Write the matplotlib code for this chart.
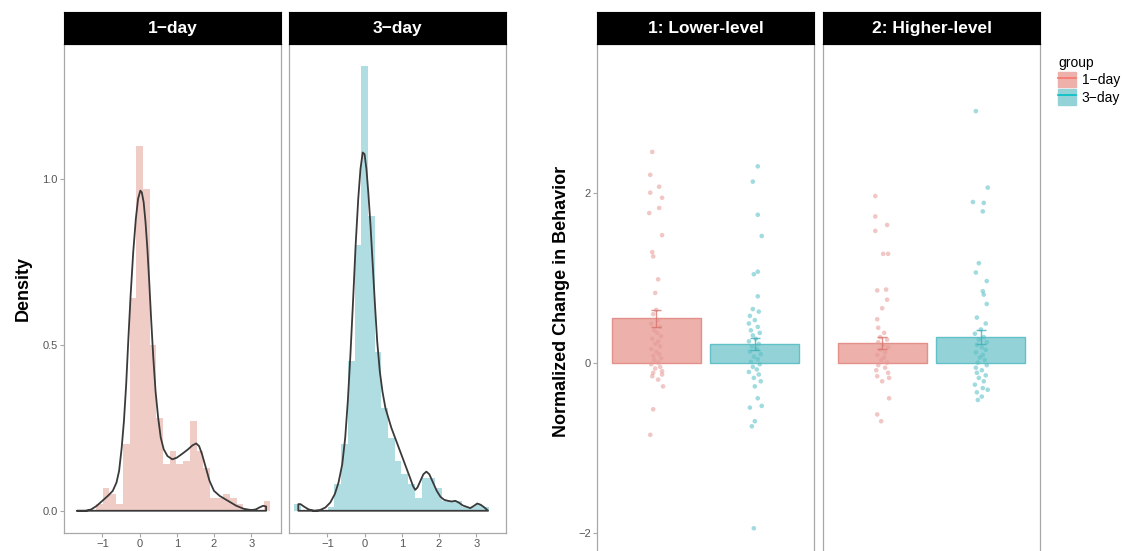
import matplotlib
matplotlib.use("Agg")
import matplotlib.pyplot as plt
from matplotlib.patches import Patch
from matplotlib.lines import Line2D

plt.rcParams['font.family'] = ['Liberation Sans', 'DejaVu Sans']

# ---------------- data ----------------
groups = ["1\u2212day", "3\u2212day"]
levels = ["1: Lower-level", "2: Higher-level"]

hist_x = [-1.8, -1.62, -1.44, -1.26, -1.08, -0.9, -0.72, -0.54, -0.36, -0.18, 0.0,
          0.18, 0.36, 0.54, 0.72, 0.9, 1.08, 1.26, 1.44, 1.62, 1.8, 1.98, 2.16,
          2.34, 2.52, 2.7, 2.88, 3.06, 3.24, 3.42]
hist_1day = [0, 0, 0, 0, 0.02, 0.07, 0.05, 0.02, 0.2, 0.64, 1.10,
             0.97, 0.5, 0.28, 0.14, 0.18, 0.14, 0.15, 0.27, 0.18, 0.13, 0.04, 0.04,
             0.05, 0.04, 0.02, 0.0, 0.0, 0.0, 0.03]
hist_3day = [0.02, 0, 0, 0, 0, 0.01, 0.08, 0.2, 0.45, 0.8, 1.34,
             0.89, 0.48, 0.31, 0.22, 0.15, 0.11, 0.08, 0.04, 0.1, 0.1, 0.07, 0.03,
             0.03, 0.03, 0.01, 0.01, 0.02, 0.01, 0.0]

dens1_x = [-1.68, -1.45, -1.3, -1.15, -1.0, -0.85, -0.72, -0.62, -0.55, -0.48, -0.42,
           -0.36, -0.3, -0.24, -0.17, -0.1, -0.04, 0.02, 0.06, 0.11, 0.16, 0.21, 0.26,
           0.31, 0.37, 0.43, 0.5, 0.57, 0.65, 0.75, 0.88, 1.0, 1.15, 1.3, 1.42, 1.52,
           1.6, 1.68, 1.78, 1.88, 2.0, 2.15, 2.3, 2.45, 2.6, 2.8, 3.0, 3.12, 3.22,
           3.32, 3.4, 3.4]
dens1_y = [0.0, 0.0, 0.004, 0.015, 0.03, 0.045, 0.06, 0.085, 0.12, 0.19, 0.27,
           0.38, 0.52, 0.65, 0.78, 0.88, 0.94, 0.965, 0.96, 0.93, 0.87, 0.79, 0.69,
           0.58, 0.46, 0.36, 0.28, 0.22, 0.185, 0.165, 0.155, 0.16, 0.172, 0.185, 0.197, 0.203,
           0.195, 0.17, 0.13, 0.09, 0.06, 0.045, 0.035, 0.025, 0.015, 0.006, 0.002, 0.004, 0.01,
           0.015, 0.013, 0.0]

dens3_x = [-1.78, -1.78, -1.72, -1.62, -1.5, -1.35, -1.2, -1.05, -0.92, -0.8, -0.7,
           -0.6, -0.52, -0.45, -0.38, -0.31, -0.24, -0.17, -0.11, -0.05, 0.0, 0.05,
           0.1, 0.16, 0.22, 0.28, 0.34, 0.41, 0.48, 0.56, 0.64, 0.72, 0.82, 0.92,
           1.02, 1.12, 1.22, 1.3, 1.36, 1.42, 1.5, 1.58, 1.66, 1.74, 1.84, 1.94,
           2.04, 2.14, 2.24, 2.34, 2.44, 2.54, 2.64, 2.74, 2.84, 2.94, 3.03, 3.12,
           3.22, 3.32]
dens3_y = [0.0, 0.02, 0.02, 0.012, 0.004, 0.0, 0.002, 0.01, 0.025, 0.05, 0.085,
           0.14, 0.22, 0.33, 0.47, 0.63, 0.8, 0.94, 1.03, 1.08, 1.075, 1.03,
           0.96, 0.86, 0.74, 0.62, 0.51, 0.42, 0.36, 0.31, 0.28, 0.25, 0.22, 0.19,
           0.16, 0.13, 0.1, 0.075, 0.063, 0.07, 0.09, 0.11, 0.118, 0.11, 0.085, 0.06,
           0.042, 0.033, 0.03, 0.028, 0.03, 0.024, 0.016, 0.012, 0.008, 0.015, 0.022, 0.018,
           0.01, 0.0]

bar_means = {"1: Lower-level": [0.52, 0.22], "2: Higher-level": [0.23, 0.30]}
bar_se = {"1: Lower-level": [0.10, 0.07], "2: Higher-level": [0.07, 0.08]}

low_1day_y = [2.48, 2.21, 2.07, 2.0, 1.94, 1.82, 1.76, 1.5, 1.3, 1.25, 0.98, 0.82,
              0.62, 0.57, 0.5, 0.46, 0.42, 0.38, 0.35, 0.31, 0.28, 0.25, 0.22, 0.19,
              0.16, 0.13, 0.1, 0.08, 0.05, 0.03, 0.0, -0.02, -0.05, -0.07, -0.1, -0.12,
              -0.14, -0.16, -0.2, -0.28, -0.55, -0.85]
low_1day_j = [-0.04, -0.06, 0.03, -0.06, 0.06, 0.03, -0.07, 0.06, -0.04, -0.03, 0.02, -0.01,
              0.0, -0.03, 0.02, -0.05, 0.04, -0.02, 0.01, 0.05, -0.04, 0.02, -0.01, 0.04,
              -0.05, 0.0, 0.03, -0.03, 0.05, -0.02, 0.02, -0.05, 0.04, -0.01, 0.06, -0.03,
              0.06, -0.04, 0.02, 0.07, -0.03, -0.06]
low_3day_y = [2.31, 2.13, 1.74, 1.49, 1.07, 1.04, 0.78, 0.63, 0.6, 0.55, 0.5, 0.46,
              0.42, 0.38, 0.35, 0.32, 0.28, 0.25, 0.22, 0.19, 0.16, 0.13, 0.1, 0.07,
              0.04, 0.01, -0.02, -0.05, -0.08, -0.11, -0.14, -0.18, -0.22, -0.28, -0.42,
              -0.51, -0.53, -0.69, -0.75, -1.95]
low_3day_j = [0.03, -0.02, 0.03, 0.07, 0.03, -0.01, 0.03, -0.02, 0.04, -0.05, 0.0, -0.06,
              0.03, -0.04, 0.05, -0.02, 0.01, -0.06, 0.04, -0.03, 0.02, -0.05, 0.06, -0.01,
              0.03, -0.04, 0.05, -0.02, 0.02, -0.06, 0.04, -0.01, 0.06, 0.0, 0.03,
              0.07, -0.05, 0.0, -0.03, -0.01]
high_1day_y = [1.96, 1.72, 1.62, 1.55, 1.28, 1.28, 0.85, 0.86, 0.74, 0.64, 0.51, 0.41,
               0.35, 0.3, 0.27, 0.24, 0.21, 0.18, 0.15, 0.12, 0.09, 0.06, 0.03, 0.0,
               -0.03, -0.06, -0.09, -0.12, -0.16, -0.18, -0.22, -0.42, -0.61, -0.69]
high_1day_j = [-0.07, -0.07, 0.05, -0.07, 0.01, 0.06, -0.05, 0.04, 0.05, 0.0, -0.05, -0.04,
               0.02, -0.02, 0.05, -0.04, 0.01, 0.06, -0.02, 0.03, -0.05, 0.02, -0.01, 0.05,
               -0.04, 0.03, -0.06, 0.06, -0.05, 0.07, 0.0, 0.07, -0.05, -0.01]
high_3day_y = [2.96, 2.06, 1.89, 1.88, 1.78, 1.17, 1.06, 0.96, 0.84, 0.8, 0.69, 0.53,
               0.46, 0.39, 0.34, 0.3, 0.27, 0.24, 0.21, 0.18, 0.15, 0.12, 0.09, 0.06,
               0.03, 0.0, -0.03, -0.06, -0.09, -0.12, -0.15, -0.18, -0.22, -0.26, -0.3,
               -0.32, -0.35, -0.4, -0.44]
high_3day_j = [-0.05, 0.07, -0.08, 0.03, 0.02, -0.02, -0.05, 0.06, 0.02, 0.03, 0.06, -0.04,
               0.05, 0.0, -0.06, 0.03, -0.02, 0.06, -0.04, 0.01, 0.05, -0.05, 0.02, -0.01,
               0.04, -0.03, 0.06, -0.05, 0.01, -0.04, 0.05, -0.02, 0.03, -0.06, 0.02,
               0.07, -0.04, 0.01, -0.03]

points = {
    ("1: Lower-level", 0): (low_1day_y, low_1day_j),
    ("1: Lower-level", 1): (low_3day_y, low_3day_j),
    ("2: Higher-level", 0): (high_1day_y, high_1day_j),
    ("2: Higher-level", 1): (high_3day_y, high_3day_j),
}

# ---------------- style ----------------
W, H = 1133, 551
fig = plt.figure(figsize=(W / 100, H / 100), dpi=100)

red = "#F8766D"
teal = "#00BFC4"
hist_cols = ["#F0CCC7", "#B0DDE2"]
bar_fill = ["#EDB0AB", "#93D3D8"]
bar_edge = ["#E3908A", "#62C1C7"]
pt_cols = ["#E59A95", "#55BFC5"]
err_cols = ["#D9736C", "#3FAFB5"]
border = "#A8A8A8"
tickc = "#555555"

def px_axes(x0, x1, ytop, ybot):
    return [x0 / W, 1 - ybot / H, (x1 - x0) / W, (ybot - ytop) / H]

def style(ax):
    for s in ax.spines.values():
        s.set_color(border)
        s.set_linewidth(0.9)
    ax.tick_params(colors=border, labelcolor=tickc, labelsize=8, length=3, width=0.8, pad=1.5)

def strip(x0, x1, text):
    sax = fig.add_axes(px_axes(x0, x1, 12, 44))
    sax.set_facecolor("black")
    sax.set_xticks([]); sax.set_yticks([])
    for s in sax.spines.values():
        s.set_color("black")
    sax.text(0.5, 0.47, text, color="white", fontsize=12.5, fontweight="bold",
             ha="center", va="center", transform=sax.transAxes)

# ---------------- left: density ----------------
left_panels = [(64, 281), (289, 506)]
hists = [hist_1day, hist_3day]
dens = [(dens1_x, dens1_y), (dens3_x, dens3_y)]
for i, (x0, x1) in enumerate(left_panels):
    ax = fig.add_axes(px_axes(x0, x1, 44, 533))
    ax.bar(hist_x, hists[i], width=0.18, color=hist_cols[i], edgecolor="none")
    dx, dy = dens[i]
    ax.fill(dx, dy, facecolor="none", edgecolor="#3A3A3A", linewidth=1.3, joinstyle="round")
    ax.set_xlim(-2.03, 3.8)
    ax.set_ylim(-0.067, 1.407)
    ax.set_xticks([-1, 0, 1, 2, 3])
    ax.set_yticks([0.0, 0.5, 1.0])
    style(ax)
    if i == 0:
        ax.set_yticklabels(["0.0", "0.5", "1.0"])
        ax.set_ylabel("Density", fontsize=13, fontweight="bold", labelpad=8)
    else:
        ax.tick_params(axis="y", left=False, labelleft=False)
    strip(x0, x1, groups[i])

# ---------------- right: bars + points ----------------
right_panels = [(597, 814), (823, 1040)]
for i, (x0, x1) in enumerate(right_panels):
    lev = levels[i]
    ax = fig.add_axes(px_axes(x0, x1, 44, 558))
    xs = [1, 2]
    ax.bar(xs, bar_means[lev], width=0.9, color=bar_fill, edgecolor=bar_edge, linewidth=1.0, zorder=1)
    for g in range(2):
        yv, jv = points[(lev, g)]
        ax.scatter([xs[g] + j for j in jv], yv, s=11, color=pt_cols[g], alpha=0.55,
                   edgecolors="none", zorder=2)
        m, se = bar_means[lev][g], bar_se[lev][g]
        ax.errorbar([xs[g]], [m], yerr=[se], color=err_cols[g], capsize=3.5, elinewidth=1.0,
                    capthick=1.0, fmt="none", zorder=3, alpha=0.8)
    ax.set_xlim(0.4, 2.6)
    ax.set_ylim(-2.3, 3.75)
    ax.set_xticks([])
    ax.set_yticks([-2, 0, 2])
    style(ax)
    if i == 0:
        ax.set_ylabel("Normalized Change in Behavior", fontsize=13, fontweight="bold", labelpad=6)
    else:
        ax.tick_params(axis="y", left=False, labelleft=False)
    strip(x0, x1, lev)

# legend
handles = [(Patch(facecolor=bar_fill[g], edgecolor=bar_fill[g]),
            Line2D([], [], color=[red, teal][g], linewidth=1.2)) for g in range(2)]
leg = fig.legend(handles, groups, title="group", loc="upper left",
                 bbox_to_anchor=(1058 / W, 1 - 56 / H), frameon=False, fontsize=10,
                 title_fontsize=10, handlelength=1.3, handleheight=1.3, handletextpad=0.4,
                 labelspacing=0.15, borderaxespad=0, borderpad=0)
leg._legend_box.align = "left"

fig.savefig("out.png", dpi=100)
